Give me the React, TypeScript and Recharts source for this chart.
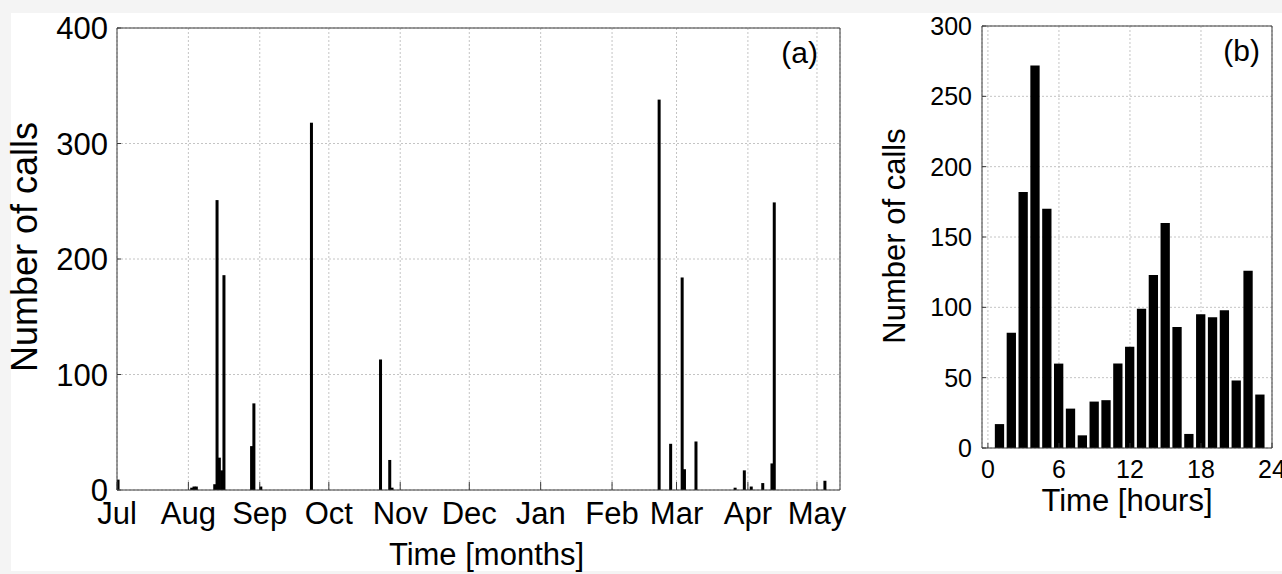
import React from "react";
import { BarChart, Bar, XAxis, YAxis, CartesianGrid } from "recharts";

// (a) calls per day, July to May
const monthLabels = ["Jul", "Aug", "Sep", "Oct", "Nov", "Dec", "Jan", "Feb", "Mar", "Apr", "May"];
const monthStartDays = [0, 31, 62, 92, 123, 153, 184, 215, 243, 274, 304];
const callDays = [0, 32, 33, 34, 42, 43, 44, 45, 46, 58, 59, 62, 84, 114, 118, 119, 235, 240, 245, 246, 251, 268, 272, 275, 280, 284, 285, 307];
const dailyCalls = [9, 2, 3, 3, 5, 251, 28, 17, 186, 38, 75, 3, 318, 113, 26, 2, 338, 40, 184, 18, 42, 2, 17, 3, 6, 23, 249, 8];
const countTicksA = [0, 100, 200, 300, 400];

// (b) calls per hour of day
const hourBins = [1, 2, 3, 4, 5, 6, 7, 8, 9, 10, 11, 12, 13, 14, 15, 16, 17, 18, 19, 20, 21, 22, 23];
const hourlyCalls = [17, 82, 182, 272, 170, 60, 28, 9, 33, 34, 60, 72, 99, 123, 160, 86, 10, 95, 93, 98, 48, 126, 38];
const hourTicks = [0, 6, 12, 18, 24];
const countTicksB = [0, 50, 100, 150, 200, 250, 300];

const FONT = '"Liberation Sans", Arial, Helvetica, sans-serif';
const AXIS = "#3a3a3a";

const dailyData = callDays.map((d, i) => ({ day: d + 0.5, calls: dailyCalls[i] }));
const hourlyData = hourBins.map((h, i) => ({ hour: h, calls: hourlyCalls[i] }));

const monthName = (v: number) => monthLabels[monthStartDays.indexOf(v)] ?? "";

// day bars are narrower than a pixel column pair, draw them 3px wide around their centre
const DayBar = (p: any) =>
  p.height > 0 ? <rect x={p.x + p.width / 2 - 1.5} y={p.y} width={3} height={p.height} fill="#000" /> : null;

const yTitle = (x: number, y: number, size: number) => () => (
  <text
    x={x}
    y={y}
    transform={`rotate(-90, ${x}, ${y})`}
    textAnchor="middle"
    fontSize={size}
    fontFamily={FONT}
    fill="#000"
  >
    Number of calls
  </text>
);

export default function App() {
  return (
    <div
      style={{
        position: "absolute",
        left: 0,
        top: 0,
        width: 1282,
        height: 574,
        background: "#f4f4f4",
        overflow: "hidden",
        fontFamily: FONT,
      }}
    >
      <div style={{ position: "absolute", left: 11, top: 13, right: 0, height: 558, background: "#fff" }} />

      {/* panel (a) */}
      <div style={{ position: "absolute", left: 0, top: 0 }}>
        <BarChart width={860} height={574} data={dailyData} margin={{ top: 27, right: 19, left: 0, bottom: 0 }}>
          <CartesianGrid stroke="#c4c4c4" strokeDasharray="2 2" />
          <XAxis
            dataKey="day"
            type="number"
            domain={[0, 314]}
            allowDataOverflow
            ticks={monthStartDays}
            tickFormatter={monthName}
            interval={0}
            height={84}
            tickSize={-8}
            tickMargin={20}
            stroke={AXIS}
            tick={{ fill: "#000", fontSize: 31, fontFamily: FONT }}
            label={{ value: "Time [months]", position: "insideBottom", offset: 9, dx: 8, fontSize: 31, fill: "#000", fontFamily: FONT }}
          />
          <XAxis
            xAxisId="top"
            orientation="top"
            type="number"
            domain={[0, 314]}
            allowDataOverflow
            ticks={monthStartDays}
            height={1}
            tickSize={-8}
            tick={false}
            stroke={AXIS}
          />
          <YAxis
            type="number"
            domain={[0, 400]}
            ticks={countTicksA}
            width={117}
            tickSize={-4}
            tickMargin={13}
            stroke={AXIS}
            tick={{ fill: "#000", fontSize: 31, fontFamily: FONT }}
            label={{ content: yTitle(37, 247, 36) }}
          />
          <YAxis
            yAxisId="right"
            orientation="right"
            type="number"
            domain={[0, 400]}
            allowDataOverflow
            ticks={countTicksA}
            width={1}
            tickSize={-4}
            tick={false}
            stroke={AXIS}
          />
          <Bar dataKey="calls" fill="#000" barSize={3} shape={DayBar} isAnimationActive={false} />
        </BarChart>
        <div style={{ position: "absolute", left: 700, top: 33, width: 118, textAlign: "right", fontSize: 30, lineHeight: "40px", color: "#000" }}>
          (a)
        </div>
      </div>

      {/* panel (b) */}
      <div style={{ position: "absolute", left: 860, top: 0 }}>
        <BarChart width={422} height={574} data={hourlyData} margin={{ top: 25, right: 9, left: 0, bottom: 0 }}>
          <CartesianGrid stroke="#c4c4c4" strokeDasharray="2 2" />
          <XAxis
            dataKey="hour"
            type="number"
            domain={[-0.5, 24]}
            allowDataOverflow
            ticks={hourTicks}
            interval={0}
            height={126}
            tickSize={-5}
            tickMargin={17}
            stroke={AXIS}
            tick={{ fill: "#000", fontSize: 25, fontFamily: FONT }}
            label={{ value: "Time [hours]", position: "insideBottom", offset: 63, fontSize: 31, fill: "#000", fontFamily: FONT }}
          />
          <XAxis
            xAxisId="top"
            orientation="top"
            type="number"
            domain={[-0.5, 24]}
            allowDataOverflow
            ticks={hourTicks}
            height={1}
            tickSize={-5}
            tick={false}
            stroke={AXIS}
          />
          <YAxis
            type="number"
            domain={[0, 300]}
            ticks={countTicksB}
            width={122}
            tickSize={-4}
            tickMargin={14}
            stroke={AXIS}
            tick={{ fill: "#000", fontSize: 25, fontFamily: FONT }}
            label={{ content: yTitle(45, 236, 31) }}
          />
          <YAxis
            yAxisId="right"
            orientation="right"
            type="number"
            domain={[0, 300]}
            allowDataOverflow
            ticks={countTicksB}
            width={1}
            tickSize={-4}
            tick={false}
            stroke={AXIS}
          />
          <Bar dataKey="calls" fill="#000" barSize={9.3} isAnimationActive={false} />
        </BarChart>
        <div style={{ position: "absolute", left: 300, top: 31, width: 100, textAlign: "right", fontSize: 30, lineHeight: "40px", color: "#000" }}>
          (b)
        </div>
      </div>
    </div>
  );
}
